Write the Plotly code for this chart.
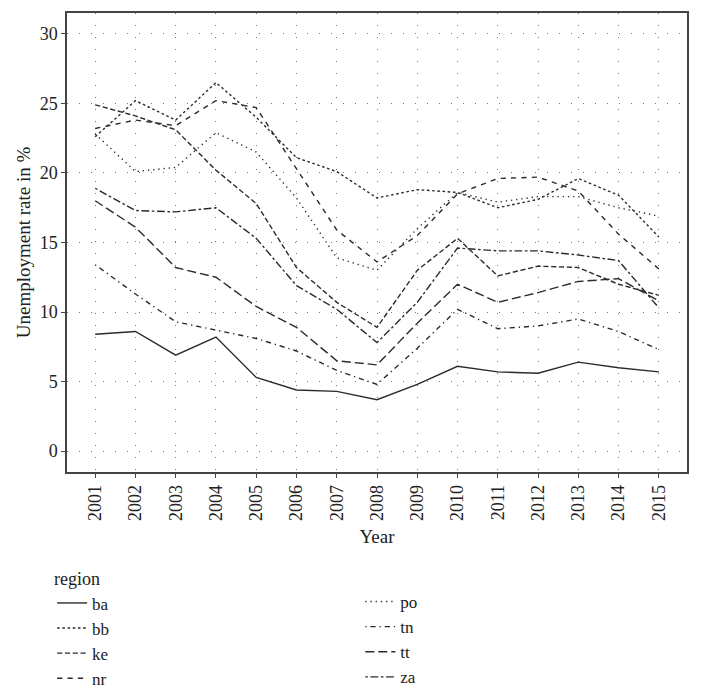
import plotly.graph_objects as go

# Unemployment rate (%) by region, 2001-2015
years = list(range(2001, 2016))

ba = [8.4, 8.6, 6.9, 8.2, 5.3, 4.4, 4.3, 3.7, 4.8, 6.1, 5.7, 5.6, 6.4, 6.0, 5.7]
bb = [22.6, 25.2, 23.8, 26.5, 24.0, 21.1, 20.1, 18.2, 18.8, 18.6, 17.5, 18.1, 19.6, 18.4, 15.4]
ke = [24.9, 24.1, 23.1, 20.2, 17.8, 13.2, 10.7, 8.9, 13.0, 15.3, 12.6, 13.3, 13.2, 12.0, 11.2]
nr = [23.2, 23.8, 23.4, 25.2, 24.7, 20.3, 15.9, 13.6, 15.5, 18.5, 19.6, 19.7, 18.7, 15.6, 13.1]
po = [22.8, 20.1, 20.4, 22.9, 21.5, 18.2, 13.9, 13.0, 16.0, 18.6, 17.9, 18.3, 18.3, 17.5, 16.9]
tn = [13.4, 11.3, 9.3, 8.7, 8.1, 7.2, 5.8, 4.8, 7.4, 10.2, 8.8, 9.0, 9.5, 8.6, 7.3]
tt = [18.0, 16.1, 13.2, 12.5, 10.4, 8.9, 6.5, 6.2, 9.2, 12.0, 10.7, 11.4, 12.2, 12.4, 10.8]
za = [18.9, 17.3, 17.2, 17.5, 15.3, 11.9, 10.2, 7.8, 10.7, 14.6, 14.4, 14.4, 14.1, 13.7, 10.3]

# ggplot-like linetypes
styles = {
    "ba": "solid",
    "bb": "2.6px,2.6px",
    "ke": "5.2px,2.6px",
    "nr": "5.2px,5.2px",
    "po": "1.3px,3.9px",
    "tn": "1.3px,3.9px,5.2px,3.9px",
    "tt": "9.1px,3.9px",
    "za": "2.6px,2.6px,7.8px,2.6px",
}
series = {"ba": ba, "bb": bb, "ke": ke, "nr": nr, "po": po, "tn": tn, "tt": tt, "za": za}

# two legend columns, like the original
col1 = ["ba", "bb", "ke", "nr"]
col2 = ["po", "tn", "tt", "za"]

fig = go.Figure()
for name in col1 + col2:
    fig.add_trace(go.Scatter(
        x=years, y=series[name], mode="lines", name=name,
        line=dict(color="#2b2b2b", width=1.4, dash=styles[name]),
        legend="legend" if name in col1 else "legend2",
    ))

axis_common = dict(
    showline=True, linecolor="#444", linewidth=1.5, mirror=True,
    ticks="outside", ticklen=4, tickcolor="#444",
    showgrid=True, gridcolor="#777", gridwidth=1, griddash="1px,11px",
    zeroline=False, tickfont=dict(size=18, color="#222"),
)

fig.update_xaxes(
    range=[2000.3, 2015.7], tickmode="array", tickvals=years,
    ticktext=[str(y) for y in years], tickangle=-90,
    title=dict(text="Year", font=dict(size=19, color="#222"), standoff=10),
    **axis_common,
)
fig.update_yaxes(
    range=[-1.5, 31.5], tickmode="array", tickvals=[0, 5, 10, 15, 20, 25, 30],
    title=dict(text="Unemployment rate in %", font=dict(size=19, color="#222"), standoff=4),
    **axis_common,
)

legend_common = dict(
    orientation="v", xref="paper", yref="container",
    xanchor="left", yanchor="top", font=dict(size=17),
    bgcolor="rgba(0,0,0,0)", traceorder="normal",
)

fig.update_layout(
    width=702, height=691,
    margin=dict(l=67, r=15, t=13, b=219),
    plot_bgcolor="white", paper_bgcolor="white",
    font=dict(family="Liberation Serif, DejaVu Serif, serif", color="#222"),
    legend=dict(
        x=-0.024, y=1 - 562 / 691,
        title=dict(text="region", side="top", font=dict(size=18)),
        **legend_common,
    ),
    legend2=dict(
        x=0.473, y=1 - 584 / 691,
        **legend_common,
    ),
)

# drop the browser's default page margin so the figure sits at 0,0
fig.write_html(
    "out.html",
    config={"displayModeBar": False},
    post_script="document.body.style.margin='0';",
)
